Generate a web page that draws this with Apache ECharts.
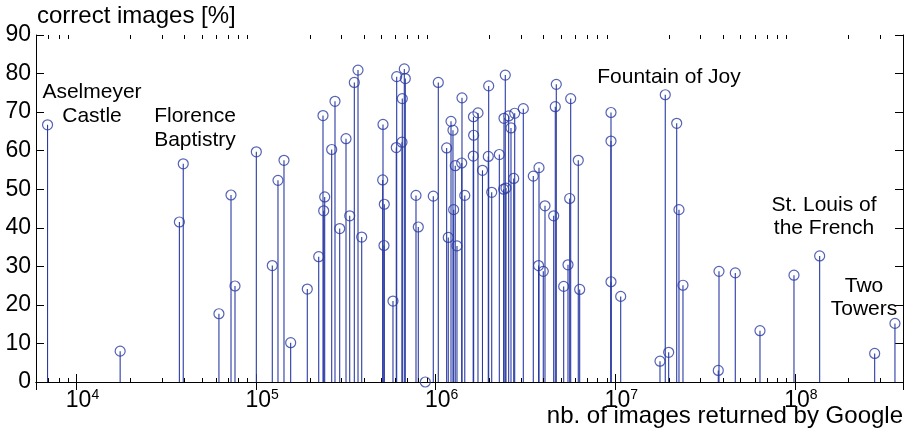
<!DOCTYPE html>
<html>
<head>
<meta charset="utf-8">
<title>correct images vs. nb. of images returned by Google</title>
<script src="https://cdn.jsdelivr.net/npm/echarts@6.0.0/dist/echarts.min.js"></script>
<style>
html, body { margin: 0; padding: 0; background: #fff; }
#chart { width: 907px; height: 438px; }
</style>
</head>
<body>
<div id="chart"></div>
<script>
// nb. of images returned by Google (x, log scale)
var imageCounts = [
	6900, 17500, 37400, 39300, 62100, 72500, 76300, 100300, 123100, 132400, 143000, 155800,
	192800, 223200, 235800, 241000, 237900, 263600, 275000, 292100, 316700, 332100, 352300, 369400, 387300,
	508900, 506900, 517400, 515400, 578400, 606600, 603400, 649300, 651700, 668700, 677300,
	776900, 800100, 875100, 969700, 1034000,
	1151000, 1175000, 1217000, 1248000, 1259000, 1285000, 1314000, 1401000, 1396000, 1452000,
	1623000, 1627000, 1619000, 1720000, 1822000, 1973000, 1963000, 2051000, 2261000,
	2401000, 2441000, 2390000, 2463000, 2549000, 2626000, 2754000, 2719000, 3075000,
	3495000, 3761000, 3740000, 3973000, 4061000, 4540000, 4634000, 4694000,
	5161000, 5574000, 5454000, 5646000, 6223000, 6336000,
	9465000, 9465000, 9465000, 10720000, 17740000, 18980000, 19830000, 21980000, 22630000, 23820000,
	37460000, 37800000, 46580000, 63930000, 98860000, 137400000, 278200000, 360800000
];
// correct images [%] (y)
var correctPercent = [
	66.7, 8.0, 41.5, 56.6, 17.7, 48.5, 24.9, 59.7, 30.2, 52.3, 57.5, 10.2,
	24.1, 32.5, 69.1, 48.0, 44.4, 60.3, 72.8, 39.8, 63.1, 43.1, 77.7, 80.9, 37.6,
	66.8, 52.4, 46.1, 35.4, 21.0, 79.2, 60.8, 62.2, 73.5, 81.2, 78.7,
	48.4, 40.2, 0.0, 48.2, 77.7,
	60.7, 37.5, 67.6, 65.3, 44.7, 56.1, 35.3, 73.7, 56.8, 48.4,
	68.8, 64.0, 58.6, 69.8, 54.9, 76.8, 58.5, 49.2, 59.0,
	68.4, 79.6, 50.0, 50.3, 69.0, 65.9, 69.7, 52.8, 70.9,
	53.4, 55.6, 30.2, 28.7, 45.7, 43.1, 71.4, 77.2,
	24.8, 47.6, 30.4, 73.5, 57.5, 24.0,
	69.9, 62.5, 26.0, 22.2, 5.4, 74.5, 7.7, 67.1, 44.7, 25.1,
	3.0, 28.7, 28.3, 13.3, 27.7, 32.7, 7.4, 15.2
];
// axis ranges
var xMin = 5950;
var xMax = 4e8;
var yMin = 0;
var yMax = 90;
var yInterval = 10;

var stemColor = '#2a3ba3';
var fontFamily = '"Liberation Sans", Arial, Helvetica, sans-serif';

var points = [];
for (var i = 0; i < imageCounts.length; i++) {
	points.push([imageCounts[i], correctPercent[i]]);
}

// minor ticks of the log axis (2..9 x 10^k)
var minorTicks = [];
for (var k = 3; k <= 8; k++) {
	for (var m = 2; m <= 9; m++) {
		var v = m * Math.pow(10, k);
		if (v > xMin && v < xMax) minorTicks.push([v, 0]);
	}
}

function crisp(x) {
	return Math.round(x - 0.5) + 0.5;
}

var chart = echarts.init(document.getElementById('chart'), null, { renderer: 'canvas' });

var option = {
	backgroundColor: '#fff',
	animation: false,
	grid: { left: 36, right: 4, top: 35, bottom: 56, containLabel: false },
	xAxis: [
		{
			type: 'log',
			logBase: 10,
			min: xMin,
			max: xMax,
			position: 'bottom',
			axisLine: { lineStyle: { color: '#000', width: 1 } },
			axisTick: { inside: true, length: 8, lineStyle: { color: '#000' } },
			splitLine: { show: false },
			axisLabel: {
				margin: 6,
				color: '#000',
				padding: [0, 0, 0, 12],
				formatter: function (value) {
					var e = Math.log(value) / Math.LN10;
					var r = Math.round(e);
					if (Math.abs(e - r) < 1e-6) return '{b|10}{s|' + r + '}';
					return '';
				},
				rich: {
					b: { fontSize: 23, fontFamily: fontFamily, color: '#000', lineHeight: 26 },
					s: { fontSize: 14, fontFamily: fontFamily, color: '#000', lineHeight: 14, verticalAlign: 'top' }
				}
			}
		},
		{
			type: 'log',
			logBase: 10,
			min: xMin,
			max: xMax,
			position: 'top',
			axisLine: { lineStyle: { color: '#000', width: 1 } },
			axisTick: { inside: true, length: 8, lineStyle: { color: '#000' } },
			splitLine: { show: false },
			axisLabel: { show: false }
		}
	],
	yAxis: [
		{
			type: 'value',
			min: yMin,
			max: yMax,
			interval: yInterval,
			position: 'left',
			axisLine: { show: true, lineStyle: { color: '#000', width: 1 } },
			axisTick: { show: true, inside: true, length: 8, lineStyle: { color: '#000' } },
			splitLine: { show: false },
			axisLabel: { margin: 5, color: '#000', fontSize: 23, fontFamily: fontFamily }
		},
		{
			type: 'value',
			min: yMin,
			max: yMax,
			interval: yInterval,
			position: 'right',
			axisLine: { show: true, lineStyle: { color: '#000', width: 1 } },
			axisTick: { show: true, inside: true, length: 8, lineStyle: { color: '#000' } },
			splitLine: { show: false },
			axisLabel: { show: false }
		}
	],
	graphic: [
		{ type: 'text', x: 37, y: 28, style: { text: 'correct images [%]', fill: '#000', fontSize: 24, fontFamily: fontFamily, align: 'left', verticalAlign: 'bottom', textAlign: 'left', textVerticalAlign: 'bottom' } },
		{ type: 'text', x: 903, y: 428, style: { text: 'nb. of images returned by Google', fill: '#000', fontSize: 24, fontFamily: fontFamily, align: 'right', verticalAlign: 'bottom', textAlign: 'right', textVerticalAlign: 'bottom' } },
		{ type: 'text', x: 92, y: 104, z: 10, style: { text: 'Aselmeyer\nCastle', fill: '#000', fontSize: 21, lineHeight: 24, fontFamily: fontFamily, align: 'center', verticalAlign: 'middle', textAlign: 'center', textVerticalAlign: 'middle' } },
		{ type: 'text', x: 195, y: 128, z: 10, style: { text: 'Florence\nBaptistry', fill: '#000', fontSize: 21, lineHeight: 24, fontFamily: fontFamily, align: 'center', verticalAlign: 'middle', textAlign: 'center', textVerticalAlign: 'middle' } },
		{ type: 'text', x: 669, y: 77, z: 10, style: { text: 'Fountain of Joy', fill: '#000', fontSize: 21, fontFamily: fontFamily, align: 'center', verticalAlign: 'middle', textAlign: 'center', textVerticalAlign: 'middle' } },
		{ type: 'text', x: 824, y: 217, z: 10, style: { text: 'St. Louis of\nthe French', fill: '#000', fontSize: 21, lineHeight: 23, fontFamily: fontFamily, align: 'center', verticalAlign: 'middle', textAlign: 'center', textVerticalAlign: 'middle' } },
		{ type: 'text', x: 864, y: 298, z: 10, style: { text: 'Two\nTowers', fill: '#000', fontSize: 21, lineHeight: 23, fontFamily: fontFamily, align: 'center', verticalAlign: 'middle', textAlign: 'center', textVerticalAlign: 'middle' } }
	],
	series: [
		{
			// minor ticks on bottom and top axes
			type: 'custom',
			xAxisIndex: 0,
			yAxisIndex: 0,
			silent: true,
			clip: false,
			z: 5,
			data: minorTicks,
			renderItem: function (params, api) {
				var v = api.value(0);
				var b = api.coord([v, yMin]);
				var t = api.coord([v, yMax]);
				var x = crisp(b[0]);
				return {
					type: 'group',
					children: [
						{ type: 'line', shape: { x1: x, y1: b[1], x2: x, y2: b[1] - 4 }, style: { stroke: '#000', lineWidth: 1 } },
						{ type: 'line', shape: { x1: x, y1: t[1], x2: x, y2: t[1] + 4 }, style: { stroke: '#000', lineWidth: 1 } }
					]
				};
			}
		},
		{
			// stems
			type: 'custom',
			xAxisIndex: 0,
			yAxisIndex: 0,
			silent: true,
			clip: false,
			z: 2,
			data: points,
			renderItem: function (params, api) {
				var p0 = api.coord([api.value(0), yMin]);
				var p1 = api.coord([api.value(0), api.value(1)]);
				return {
					type: 'line',
					shape: { x1: p0[0], y1: p0[1], x2: p1[0], y2: p1[1] },
					style: { stroke: stemColor, lineWidth: 1.1 }
				};
			}
		},
		{
			type: 'scatter',
			xAxisIndex: 0,
			yAxisIndex: 0,
			clip: false,
			z: 3,
			symbol: 'circle',
			symbolSize: 10,
			itemStyle: { color: 'rgba(0,0,0,0)', borderColor: stemColor, borderWidth: 1.2 },
			data: points
		}
	]
};
chart.setOption(option);
</script>
</body>
</html>
